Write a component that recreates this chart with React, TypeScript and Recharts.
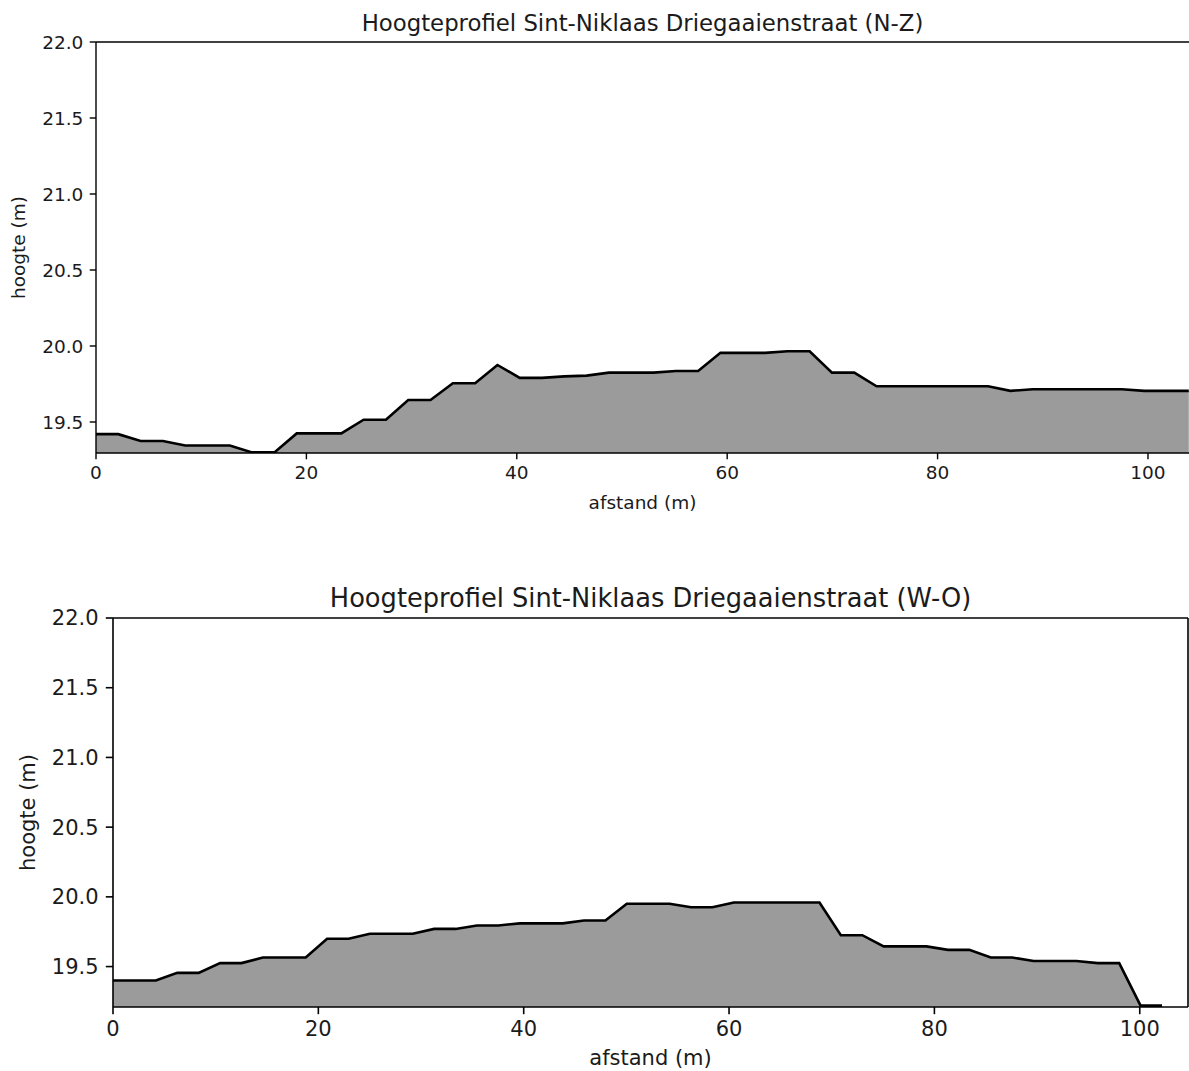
import { AreaChart, Area, XAxis, YAxis, ReferenceLine } from "recharts";

// Hoogteprofiel N-Z: afstand (m) en hoogte (m)
const nzAfstand = [
  0, 2.12, 4.24, 6.36, 8.48, 10.6, 12.72, 14.84, 16.96, 19.08, 21.2, 23.32,
  25.44, 27.56, 29.68, 31.8, 33.92, 36.04, 38.16, 40.28, 42.4, 44.52, 46.64,
  48.76, 50.88, 53.0, 55.12, 57.24, 59.36, 61.48, 63.6, 65.72, 67.84, 69.96,
  72.08, 74.2, 76.32, 78.44, 80.56, 82.68, 84.8, 86.92, 89.04, 91.16, 93.28,
  95.4, 97.52, 99.64, 101.76, 103.88,
];
const nzHoogte = [
  19.42, 19.42, 19.375, 19.375, 19.345, 19.345, 19.345, 19.3, 19.3, 19.425,
  19.425, 19.425, 19.515, 19.515, 19.645, 19.645, 19.755, 19.755, 19.875,
  19.79, 19.79, 19.8, 19.805, 19.825, 19.825, 19.825, 19.835, 19.835, 19.955,
  19.955, 19.955, 19.965, 19.965, 19.825, 19.825, 19.735, 19.735, 19.735,
  19.735, 19.735, 19.735, 19.705, 19.715, 19.715, 19.715, 19.715, 19.715,
  19.705, 19.705, 19.705,
];

// Hoogteprofiel W-O
const woAfstand = [
  0, 2.09, 4.17, 6.26, 8.34, 10.43, 12.51, 14.6, 16.68, 18.77, 20.85, 22.94,
  25.02, 27.11, 29.19, 31.28, 33.36, 35.45, 37.53, 39.62, 41.7, 43.79, 45.87,
  47.96, 50.04, 52.13, 54.21, 56.3, 58.38, 60.47, 62.55, 64.64, 66.72, 68.81,
  70.89, 72.98, 75.06, 77.15, 79.23, 81.32, 83.4, 85.49, 87.57, 89.66, 91.74,
  93.83, 95.91, 98.0, 100.08, 102.17,
];
const woHoogte = [
  19.4, 19.4, 19.4, 19.455, 19.455, 19.525, 19.525, 19.565, 19.565, 19.565,
  19.7, 19.7, 19.735, 19.735, 19.735, 19.77, 19.77, 19.795, 19.795, 19.81,
  19.81, 19.81, 19.83, 19.83, 19.95, 19.95, 19.95, 19.925, 19.925, 19.96,
  19.96, 19.96, 19.96, 19.96, 19.725, 19.725, 19.645, 19.645, 19.645, 19.62,
  19.62, 19.565, 19.565, 19.54, 19.54, 19.54, 19.525, 19.525, 19.22, 19.22,
];

const xTicks = [0, 20, 40, 60, 80, 100];
const yTicks = [19.5, 20, 20.5, 21, 21.5, 22];

const FILL = "#9b9b9b";
const INK = "#1b1b1b";
const FONT = "'DejaVu Sans', sans-serif";

type Row = { afstand: number; hoogte: number };
const toRows = (xs: number[], ys: number[]): Row[] =>
  xs.map((x, i) => ({ afstand: x, hoogte: ys[i] }));

type ProfileProps = {
  title: string;
  data: Row[];
  top: number;
  height: number;
  margin: { top: number; right: number; bottom: number; left: number };
  yAxisWidth: number;
  xAxisHeight: number;
  xMax: number;
  yMin: number;
  tickFont: number;
  titleFont: number;
  tickLen: number;
  spine: number;
  rightSpine: boolean;
  yLabelX: number;
  xLabelDy: number;
};

function Profile(p: ProfileProps) {
  const textStyle = { fill: INK, fontFamily: FONT, fontSize: p.tickFont };
  return (
    <div style={{ position: "absolute", left: 0, top: p.top }}>
      <AreaChart width={1189} height={p.height} data={p.data} margin={p.margin}>
        <XAxis
          dataKey="afstand"
          type="number"
          domain={[0, p.xMax]}
          ticks={xTicks}
          allowDataOverflow
          height={p.xAxisHeight}
          tickSize={p.tickLen}
          tickMargin={p.tickLen}
          tick={textStyle}
          tickLine={{ stroke: "#000", strokeWidth: p.spine }}
          axisLine={{ stroke: "#000", strokeWidth: p.spine }}
          label={(lp: any) => {
            const vb = lp.viewBox;
            return (
              <text
                x={vb.x + vb.width / 2}
                y={vb.y + p.xLabelDy}
                textAnchor="middle"
                fill={INK}
                fontFamily={FONT}
                fontSize={p.tickFont}
              >
                afstand (m)
              </text>
            );
          }}
        />
        <YAxis
          type="number"
          domain={[p.yMin, 22]}
          ticks={yTicks}
          allowDataOverflow
          width={p.yAxisWidth}
          tickSize={p.tickLen}
          tickMargin={p.tickLen}
          tick={textStyle}
          tickFormatter={(v: number) => v.toFixed(1)}
          tickLine={{ stroke: "#000", strokeWidth: p.spine }}
          axisLine={{ stroke: "#000", strokeWidth: p.spine }}
          label={(lp: any) => {
            const vb = lp.viewBox;
            const cy = vb.y + vb.height / 2;
            return (
              <text
                x={p.yLabelX}
                y={cy}
                dy="0.3em"
                textAnchor="middle"
                transform={`rotate(-90 ${p.yLabelX} ${cy})`}
                fill={INK}
                fontFamily={FONT}
                fontSize={p.tickFont}
              >
                hoogte (m)
              </text>
            );
          }}
        />
        <Area
          type="linear"
          dataKey="hoogte"
          stroke="#000"
          strokeWidth={2.6}
          fill={FILL}
          fillOpacity={1}
          dot={false}
          activeDot={false}
          isAnimationActive={false}
        />
        <ReferenceLine
          y={22}
          stroke="#000"
          strokeWidth={p.spine}
          label={{
            value: p.title,
            position: "top",
            offset: 11,
            fill: INK,
            fontFamily: FONT,
            fontSize: p.titleFont,
          }}
        />
        {p.rightSpine && (
          <ReferenceLine x={p.xMax} stroke="#000" strokeWidth={p.spine} />
        )}
      </AreaChart>
    </div>
  );
}

export default function App() {
  return (
    <div
      style={{
        position: "absolute",
        left: 0,
        top: 0,
        width: 1189,
        height: 1071,
        overflow: "hidden",
        background: "#fff",
      }}
    >
      <Profile
        title="Hoogteprofiel Sint-Niklaas Driegaaienstraat (N-Z)"
        data={toRows(nzAfstand, nzHoogte)}
        top={0}
        height={530}
        margin={{ top: 42, right: 0, bottom: 0, left: 0 }}
        yAxisWidth={96}
        xAxisHeight={77}
        xMax={103.9}
        yMin={19.296}
        tickFont={18.5}
        titleFont={22.8}
        tickLen={6.3}
        spine={1.4}
        rightSpine={false}
        yLabelX={19.5}
        xLabelDy={56}
      />
      <Profile
        title="Hoogteprofiel Sint-Niklaas Driegaaienstraat (W-O)"
        data={toRows(woAfstand, woHoogte)}
        top={560}
        height={511}
        margin={{ top: 58, right: 1, bottom: 0, left: 0 }}
        yAxisWidth={113}
        xAxisHeight={64}
        xMax={104.7}
        yMin={19.21}
        tickFont={21}
        titleFont={25.7}
        tickLen={7.2}
        spine={1.6}
        rightSpine={true}
        yLabelX={28.5}
        xLabelDy={58}
      />
    </div>
  );
}
